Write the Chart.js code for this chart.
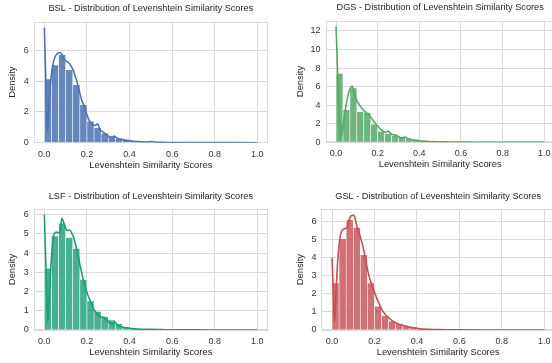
<!DOCTYPE html>
<html><head><meta charset="utf-8">
<script src="https://cdn.jsdelivr.net/npm/chart.js@4.4.1/dist/chart.umd.min.js"></script>
<style>
html,body{margin:0;padding:0;width:552px;height:363px;overflow:hidden;background:#fff;}
canvas{position:absolute;}
</style></head><body>
<canvas id="c1"></canvas><canvas id="c2"></canvas><canvas id="c3"></canvas><canvas id="c4"></canvas>
<script>
// ---- data ----
const binCount = 30;
const binCenters = Array.from({length: binCount}, (_, i) => (i + 0.5) / binCount);
const xTickValues = [0, 0.2, 0.4, 0.6, 0.8, 1.0];
const xLabel = 'Levenshtein Similarity Scores';
const yLabel = 'Density';

const bslTitle = 'BSL - Distribution of Levenshtein Similarity Scores';
const bslYTicks = [0, 2, 4, 6];
const bslHist = [4.13, 5.05, 5.70, 4.73, 3.76, 2.47, 1.40, 0.97, 0.62, 0.41, 0.28, 0.19, 0.12, 0.07, 0.04, 0.03, 0.02, 0.01, 0.01, 0.005, 0, 0, 0, 0, 0, 0, 0, 0, 0, 0];
const bslKdeX = [0, 0.005, 0.01, 0.014, 0.02, 0.027, 0.035, 0.042, 0.05, 0.058, 0.066, 0.074, 0.082, 0.088, 0.093, 0.102, 0.113, 0.122, 0.129, 0.137, 0.144, 0.152, 0.16, 0.168, 0.176, 0.183, 0.19, 0.198, 0.207, 0.215, 0.223, 0.231, 0.239, 0.245, 0.25, 0.256, 0.262, 0.274, 0.286, 0.298, 0.309, 0.318, 0.328, 0.338, 0.348, 0.368, 0.388, 0.42, 0.45, 0.48, 0.5, 0.52, 0.545, 0.6, 0.7, 0.8, 0.9, 1.0];
const bslKdeY = [7.46, 5.0, 2.5, 0.75, 1.9, 3.6, 4.6, 5.2, 5.55, 5.74, 5.82, 5.85, 5.74, 5.55, 5.4, 5.3, 5.2, 5.05, 4.88, 4.65, 4.34, 4.0, 3.6, 3.15, 2.73, 2.5, 2.3, 1.9, 1.55, 1.35, 1.23, 1.15, 1.12, 1.18, 1.23, 1.05, 0.84, 0.7, 0.58, 0.46, 0.37, 0.36, 0.43, 0.33, 0.26, 0.2, 0.15, 0.09, 0.06, 0.05, 0.08, 0.04, 0.02, 0.01, 0.005, 0.003, 0.002, 0.001];

const dgsTitle = 'DGS - Distribution of Levenshtein Similarity Scores';
const dgsYTicks = [0, 2, 4, 6, 8, 10, 12];
const dgsHist = [7.42, 3.52, 5.85, 3.28, 3.20, 1.95, 1.20, 0.92, 0.70, 0.55, 0.42, 0.30, 0.20, 0.12, 0.08, 0.06, 0.04, 0.03, 0.02, 0.01, 0, 0, 0, 0, 0, 0, 0, 0, 0, 0];
const dgsKdeX = [0, 0.005, 0.01, 0.015, 0.022, 0.03, 0.04, 0.05, 0.06, 0.07, 0.078, 0.085, 0.092, 0.1, 0.11, 0.12, 0.13, 0.14, 0.15, 0.16, 0.17, 0.18, 0.19, 0.2, 0.21, 0.22, 0.23, 0.24, 0.25, 0.26, 0.27, 0.28, 0.29, 0.3, 0.31, 0.32, 0.33, 0.34, 0.36, 0.38, 0.4, 0.43, 0.46, 0.5, 0.55, 0.6, 0.7, 0.8, 1.0];
const dgsKdeY = [12.5, 9.5, 5.5, 2.6, 0.4, 1.2, 2.8, 4.2, 5.3, 5.9, 6.05, 5.6, 5.0, 4.5, 4.1, 3.8, 3.5, 3.3, 3.1, 2.9, 2.6, 2.3, 2.0, 1.75, 1.5, 1.3, 1.15, 1.1, 1.2, 1.0, 0.85, 0.8, 0.72, 0.62, 0.5, 0.48, 0.58, 0.45, 0.3, 0.22, 0.15, 0.1, 0.07, 0.06, 0.04, 0.02, 0.01, 0.005, 0.002];

const lsfTitle = 'LSF - Distribution of Levenshtein Similarity Scores';
const lsfYTicks = [0, 1, 2, 3, 4, 5, 6];
const lsfHist = [3.22, 4.89, 5.56, 4.82, 4.25, 2.63, 1.51, 0.97, 0.71, 0.52, 0.33, 0.16, 0.09, 0.06, 0.05, 0.03, 0.02, 0.01, 0.005, 0, 0, 0, 0, 0, 0, 0, 0, 0, 0, 0];
const lsfKdeX = [0, 0.005, 0.01, 0.016, 0.022, 0.03, 0.037, 0.043, 0.05, 0.058, 0.065, 0.071, 0.077, 0.082, 0.088, 0.093, 0.098, 0.105, 0.113, 0.12, 0.128, 0.137, 0.145, 0.153, 0.16, 0.168, 0.176, 0.184, 0.192, 0.2, 0.208, 0.216, 0.223, 0.23, 0.24, 0.25, 0.263, 0.272, 0.28, 0.29, 0.3, 0.31, 0.32, 0.33, 0.34, 0.35, 0.37, 0.39, 0.41, 0.45, 0.5, 0.55, 0.6, 0.7, 0.8, 1.0];
const lsfKdeY = [6.0, 4.2, 2.3, 0.42, 1.6, 3.2, 4.3, 4.9, 5.05, 5.1, 5.05, 5.05, 5.4, 5.82, 5.7, 5.5, 5.35, 5.2, 5.18, 5.2, 5.05, 4.83, 4.5, 4.15, 3.8, 3.35, 2.95, 2.58, 2.25, 1.95, 1.72, 1.5, 1.3, 1.1, 0.95, 0.8, 0.68, 0.66, 0.64, 0.55, 0.45, 0.33, 0.3, 0.42, 0.3, 0.2, 0.14, 0.1, 0.07, 0.04, 0.03, 0.02, 0.01, 0.005, 0.003, 0.001];

const gslTitle = 'GSL - Distribution of Levenshtein Similarity Scores';
const gslYTicks = [0, 1, 2, 3, 4, 5, 6];
const gslHist = [2.60, 5.05, 6.10, 5.67, 4.17, 2.60, 1.31, 0.80, 0.50, 0.35, 0.22, 0.15, 0.10, 0.07, 0.05, 0.03, 0.02, 0.01, 0.005, 0, 0, 0, 0, 0, 0, 0, 0, 0, 0, 0];
const gslKdeX = [0, 0.004, 0.008, 0.012, 0.02, 0.028, 0.035, 0.045, 0.058, 0.07, 0.078, 0.085, 0.092, 0.1, 0.106, 0.113, 0.12, 0.128, 0.137, 0.146, 0.155, 0.163, 0.171, 0.18, 0.19, 0.2, 0.212, 0.224, 0.235, 0.247, 0.26, 0.28, 0.3, 0.318, 0.34, 0.365, 0.39, 0.41, 0.45, 0.5, 0.55, 0.6, 0.7, 0.8, 1.0];
const gslKdeY = [4.0, 2.8, 1.5, 0.5, 2.4, 4.0, 4.9, 5.45, 5.6, 5.65, 5.95, 6.25, 6.33, 6.35, 6.3, 5.95, 5.6, 5.35, 5.0, 4.6, 4.1, 3.6, 3.15, 2.75, 2.4, 2.1, 1.72, 1.4, 1.13, 0.92, 0.74, 0.55, 0.4, 0.31, 0.23, 0.17, 0.11, 0.07, 0.04, 0.02, 0.01, 0.005, 0.003, 0.002, 0.001];

// ---- rendering ----
const FONT = "'Liberation Sans', Arial, Helvetica, sans-serif";
const TEXT = '#262626';
const GRID = '#dadada';
Chart.defaults.font.family = FONT;
Chart.defaults.color = TEXT;

const framePlugin = {
  id: 'frame',
  beforeDatasetsDraw(chart) {
    const a = chart.chartArea, ctx = chart.ctx;
    ctx.save();
    ctx.strokeStyle = GRID;
    ctx.lineWidth = 1;
    const l = Math.round(a.left) + 0.5, t = Math.round(a.top) + 0.5;
    const r = Math.round(a.right) - 0.5, b = Math.round(a.bottom) - 0.5;
    ctx.strokeRect(l, t, r - l, b - t);
    ctx.restore();
  }
};

function makePanel(id, title, hist, kdeX, kdeY, yTicks, yMax, lineColor, barColor, g) {
  const cv = document.getElementById(id);
  cv.width = g.w; cv.height = g.h;
  cv.style.left = g.left + 'px'; cv.style.top = g.top + 'px';
  cv.style.width = g.w + 'px'; cv.style.height = g.h + 'px';
  return new Chart(cv, {
    type: 'bar',
    data: {
      datasets: [
        {
          type: 'line', order: 0,
          data: kdeX.map((x, i) => ({x, y: kdeY[i]})),
          borderColor: lineColor, borderWidth: 1.6, pointRadius: 0,
          cubicInterpolationMode: 'monotone', fill: false
        },
        {
          type: 'bar', order: 1,
          data: binCenters.map((x, i) => ({x, y: hist[i]})),
          backgroundColor: barColor, borderColor: '#ffffff', borderWidth: 0.6,
          borderSkipped: 'start', barPercentage: 1, categoryPercentage: 1
        }
      ]
    },
    options: {
      responsive: false, animation: false, devicePixelRatio: 1,
      layout: {padding: {left: 0, top: 0, right: g.padR, bottom: g.padB}},
      plugins: {
        legend: {display: false}, tooltip: {enabled: false},
        title: {
          display: true, text: title, fullSize: false, color: TEXT,
          font: {size: 9.2, weight: 'normal', family: FONT, lineHeight: 1.2},
          padding: {top: g.titleTop, bottom: 7.48}
        }
      },
      scales: {
        x: {
          type: 'linear', min: -0.05, max: 1.05, offset: false,
          grid: {color: GRID, lineWidth: 1, drawTicks: false, offset: false},
          border: {display: false},
          afterBuildTicks: s => { s.ticks = xTickValues.map(v => ({value: v})); },
          afterFit: s => { s.height = 30; },
          ticks: {padding: 6, color: '#333333', font: {size: 9}, maxRotation: 0,
                  callback: v => Number(v).toFixed(1)},
          title: {display: true, text: xLabel, color: TEXT,
                  font: {size: 9.4, lineHeight: 1.2}, padding: {top: 0, bottom: 2}}
        },
        y: {
          type: 'linear', min: 0, max: yMax,
          grid: {color: GRID, lineWidth: 1, drawTicks: false},
          border: {display: false},
          afterBuildTicks: s => { s.ticks = yTicks.map(v => ({value: v})); },
          afterFit: s => { s.width = g.yW; },
          ticks: {padding: 5, color: '#333333', font: {size: 9}, callback: v => String(v)},
          title: {display: true, text: yLabel, color: TEXT,
                  font: {size: 9.4, lineHeight: 1.2}, padding: {top: g.yTitle, bottom: 0}}
        }
      }
    },
    plugins: [framePlugin]
  });
}

makePanel('c1', bslTitle, bslHist, bslKdeX, bslKdeY, bslYTicks, 7.85, '#4c72b0', 'rgba(76,114,176,0.85)',
  {left: 0, top: 0, w: 276, h: 180, yW: 33.7, padR: 8, padB: 7.3, titleTop: 3.18, yTitle: 6.66});
makePanel('c2', dgsTitle, dgsHist, dgsKdeX, dgsKdeY, dgsYTicks, 13.1, '#55a868', 'rgba(85,168,104,0.85)',
  {left: 276, top: 0, w: 286, h: 180, yW: 49.6, padR: 7.3, padB: 7.7, titleTop: 2.18, yTitle: 18.36});
makePanel('c3', lsfTitle, lsfHist, lsfKdeX, lsfKdeY, lsfYTicks, 6.3, '#1b9e77', 'rgba(27,158,119,0.8)',
  {left: 0, top: 180, w: 276, h: 183, yW: 33.7, padR: 8, padB: 3, titleTop: 10.48, yTitle: 6.66});
makePanel('c4', gslTitle, gslHist, gslKdeX, gslKdeY, gslYTicks, 6.68, '#c44e52', 'rgba(196,78,82,0.8)',
  {left: 276, top: 180, w: 286, h: 183, yW: 45.4, padR: 7.1, padB: 3, titleTop: 10.78, yTitle: 18.36});
</script>
</body></html>
